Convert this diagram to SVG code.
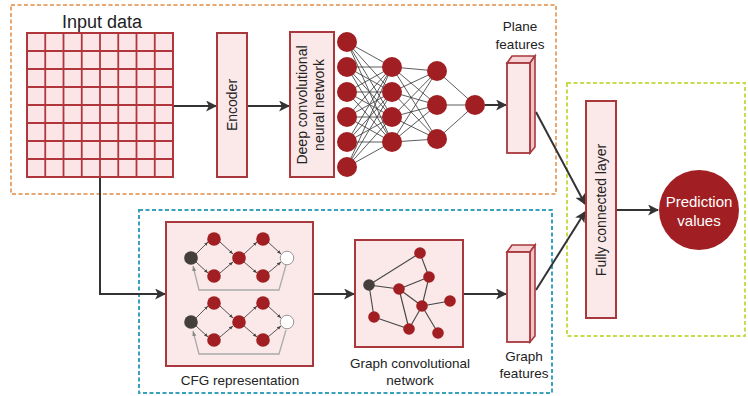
<svg xmlns="http://www.w3.org/2000/svg" width="748" height="396" viewBox="0 0 748 396">
  <style>
    .lbl { font-family: "Liberation Sans", Arial, sans-serif; fill: #222; }
    .box { fill: #fbe8e9; stroke: #a8383c; stroke-width: 2; }
    .nn { fill: #a11f22; }
    .syn { stroke: #333; stroke-width: 0.8; }
    .conn { stroke: #333; stroke-width: 2; fill: none; }
    .gedge { stroke: #444; stroke-width: 1.1; }
    .cfg { stroke: #555; stroke-width: 1; marker-end: url(#tiny); }
    .loop { stroke: #aaa; stroke-width: 1.3; fill: none; }
    .gn { fill: #a11f22; }
  </style>
  <defs>
    <marker id="arr" viewBox="0 0 10 10" refX="9" refY="5" markerWidth="5.5" markerHeight="5.5" orient="auto" markerUnits="strokeWidth">
      <path d="M0,0 L10,5 L0,10 L2.5,5 Z" fill="#333"/>
    </marker>
    <marker id="tiny" viewBox="0 0 10 10" refX="10" refY="5" markerWidth="4" markerHeight="4" orient="auto" markerUnits="strokeWidth">
      <path d="M0,1 L10,5 L0,9 Z" fill="#444"/>
    </marker>
    <marker id="tinyg" viewBox="0 0 10 10" refX="10" refY="5" markerWidth="4" markerHeight="4" orient="auto" markerUnits="strokeWidth">
      <path d="M0,1 L10,5 L0,9 Z" fill="#888"/>
    </marker>
  </defs>

  <rect width="748" height="396" fill="#ffffff"/>

  <!-- dashed stage frames -->
  <rect x="11" y="5" width="545" height="189" fill="none" stroke="#e8a873" stroke-width="2" stroke-dasharray="4 2.5"/>
  <rect x="139" y="210" width="413" height="183" fill="none" stroke="#3aa1bd" stroke-width="2" stroke-dasharray="4 2.5"/>
  <rect x="567" y="83" width="178" height="253" fill="none" stroke="#c7db4d" stroke-width="2" stroke-dasharray="4 2.5"/>

  <!-- connectors -->
  <g id="connectors">
    <line class="conn" x1="173" y1="106" x2="216" y2="106" marker-end="url(#arr)"/>
    <line class="conn" x1="247" y1="106" x2="289" y2="106" marker-end="url(#arr)"/>
    <line class="conn" x1="485" y1="105" x2="506" y2="105" marker-end="url(#arr)"/>
    <polyline class="conn" points="100,177 100,294 165,294" marker-end="url(#arr)"/>
    <line class="conn" x1="313" y1="294" x2="354" y2="294" marker-end="url(#arr)"/>
    <line class="conn" x1="463" y1="294" x2="506" y2="294" marker-end="url(#arr)"/>
    <line class="conn" x1="536" y1="112" x2="585" y2="204" marker-end="url(#arr)"/>
    <line class="conn" x1="536" y1="290" x2="585" y2="212" marker-end="url(#arr)"/>
    <line class="conn" x1="616" y1="210" x2="658" y2="210" marker-end="url(#arr)"/>
  </g>

  <!-- input grid -->
  <g id="input-data">
    <text class="lbl" x="102" y="28" font-size="18" text-anchor="middle">Input data</text>
    <rect x="27" y="33" width="146" height="144" fill="#fbe5e6" stroke="#b0363b" stroke-width="2"/>
    <g stroke="#b0363b" stroke-width="1.8">
      <line x1="45.25" y1="33" x2="45.25" y2="177"/>
      <line x1="63.5" y1="33" x2="63.5" y2="177"/>
      <line x1="81.75" y1="33" x2="81.75" y2="177"/>
      <line x1="100" y1="33" x2="100" y2="177"/>
      <line x1="118.25" y1="33" x2="118.25" y2="177"/>
      <line x1="136.5" y1="33" x2="136.5" y2="177"/>
      <line x1="154.75" y1="33" x2="154.75" y2="177"/>
      <line x1="27" y1="51" x2="173" y2="51"/>
      <line x1="27" y1="69" x2="173" y2="69"/>
      <line x1="27" y1="87" x2="173" y2="87"/>
      <line x1="27" y1="105" x2="173" y2="105"/>
      <line x1="27" y1="123" x2="173" y2="123"/>
      <line x1="27" y1="141" x2="173" y2="141"/>
      <line x1="27" y1="159" x2="173" y2="159"/>
    </g>
  </g>

  <g id="encoder">
    <rect class="box" x="217" y="33" width="30" height="144"/>
    <text class="lbl" font-size="14" text-anchor="middle" transform="translate(237,105) rotate(-90)">Encoder</text>
  </g>

  <g id="dcnn">
    <rect class="box" x="290" y="32" width="44" height="145"/>
    <text class="lbl" font-size="14" text-anchor="middle" transform="translate(307,105) rotate(-90)">Deep convolutional</text>
    <text class="lbl" font-size="14" text-anchor="middle" transform="translate(324,105) rotate(-90)">neural network</text>
  </g>

  <!-- fully connected perceptron -->
  <g id="neural-net">
    <g class="syn">
      <line x1="347" y1="42" x2="392" y2="67"/><line x1="347" y1="42" x2="392" y2="92"/><line x1="347" y1="42" x2="392" y2="117"/><line x1="347" y1="42" x2="392" y2="142"/>
      <line x1="347" y1="67" x2="392" y2="67"/><line x1="347" y1="67" x2="392" y2="92"/><line x1="347" y1="67" x2="392" y2="117"/><line x1="347" y1="67" x2="392" y2="142"/>
      <line x1="347" y1="92" x2="392" y2="67"/><line x1="347" y1="92" x2="392" y2="92"/><line x1="347" y1="92" x2="392" y2="117"/><line x1="347" y1="92" x2="392" y2="142"/>
      <line x1="347" y1="117" x2="392" y2="67"/><line x1="347" y1="117" x2="392" y2="92"/><line x1="347" y1="117" x2="392" y2="117"/><line x1="347" y1="117" x2="392" y2="142"/>
      <line x1="347" y1="142" x2="392" y2="67"/><line x1="347" y1="142" x2="392" y2="92"/><line x1="347" y1="142" x2="392" y2="117"/><line x1="347" y1="142" x2="392" y2="142"/>
      <line x1="347" y1="167" x2="392" y2="67"/><line x1="347" y1="167" x2="392" y2="92"/><line x1="347" y1="167" x2="392" y2="117"/><line x1="347" y1="167" x2="392" y2="142"/>
      <line x1="392" y1="67" x2="437" y2="71"/><line x1="392" y1="67" x2="437" y2="105"/><line x1="392" y1="67" x2="437" y2="139"/>
      <line x1="392" y1="92" x2="437" y2="71"/><line x1="392" y1="92" x2="437" y2="105"/><line x1="392" y1="92" x2="437" y2="139"/>
      <line x1="392" y1="117" x2="437" y2="71"/><line x1="392" y1="117" x2="437" y2="105"/><line x1="392" y1="117" x2="437" y2="139"/>
      <line x1="392" y1="142" x2="437" y2="71"/><line x1="392" y1="142" x2="437" y2="105"/><line x1="392" y1="142" x2="437" y2="139"/>
      <line x1="437" y1="71" x2="475" y2="105"/><line x1="437" y1="105" x2="475" y2="105"/><line x1="437" y1="139" x2="475" y2="105"/>
    </g>
    <g class="nn">
      <circle cx="347" cy="42" r="10"/><circle cx="347" cy="67" r="10"/><circle cx="347" cy="92" r="10"/>
      <circle cx="347" cy="117" r="10"/><circle cx="347" cy="142" r="10"/><circle cx="347" cy="167" r="10"/>
      <circle cx="392" cy="67" r="10"/><circle cx="392" cy="92" r="10"/><circle cx="392" cy="117" r="10"/><circle cx="392" cy="142" r="10"/>
      <circle cx="437" cy="71" r="10"/><circle cx="437" cy="105" r="10"/><circle cx="437" cy="139" r="10"/>
      <circle cx="475" cy="105" r="10"/>
    </g>
  </g>

  <g id="plane-features">
    <text class="lbl" x="520" y="31" font-size="13.5" text-anchor="middle">Plane</text>
    <text class="lbl" x="520" y="49" font-size="13.5" text-anchor="middle">features</text>
    <path d="M507,63 L512,56 L535,56 L530,63 Z" fill="#f6d3d5" stroke="#a8383c" stroke-width="1.6"/>
    <path d="M530,63 L535,56 L535,147 L530,153 Z" fill="#f2c4c7" stroke="#a8383c" stroke-width="1.6"/>
    <rect x="507" y="63" width="23" height="90" fill="#fbe8e9" stroke="#a8383c" stroke-width="1.8"/>
  </g>

  <g id="cfg">
    <rect class="box" x="166" y="222" width="147" height="144"/>
    <!-- upper flow graph -->
    <path class="loop" d="M286,265 L279,290 L199,290 L193,266" marker-end="url(#tinyg)"/>
    <line class="cfg" x1="196" y1="254" x2="208" y2="242"/>
    <line class="cfg" x1="196" y1="262" x2="208" y2="273"/>
    <line class="cfg" x1="220" y1="242" x2="233" y2="254"/>
    <line class="cfg" x1="220" y1="273" x2="233" y2="262"/>
    <line class="cfg" x1="244" y1="254" x2="257" y2="242"/>
    <line class="cfg" x1="244" y1="262" x2="257" y2="273"/>
    <line class="cfg" x1="268" y1="242" x2="281" y2="254"/>
    <line class="cfg" x1="268" y1="273" x2="281" y2="262"/>
    <circle cx="191" cy="258" r="6.8" fill="#453f3c"/>
    <circle class="gn" cx="214" cy="239" r="6.8"/>
    <circle class="gn" cx="214" cy="276" r="6.8"/>
    <circle class="gn" cx="239" cy="258" r="6.8"/>
    <circle class="gn" cx="263" cy="239" r="6.8"/>
    <circle class="gn" cx="263" cy="276" r="6.8"/>
    <circle cx="287" cy="258" r="6.8" fill="#ffffff" stroke="#999" stroke-width="1"/>
    <!-- lower flow graph -->
    <path class="loop" d="M286,330 L279,354 L199,354 L193,331" marker-end="url(#tinyg)"/>
    <line class="cfg" x1="196" y1="318" x2="208" y2="306"/>
    <line class="cfg" x1="196" y1="326" x2="208" y2="337"/>
    <line class="cfg" x1="220" y1="306" x2="233" y2="318"/>
    <line class="cfg" x1="220" y1="337" x2="233" y2="326"/>
    <line class="cfg" x1="244" y1="318" x2="257" y2="306"/>
    <line class="cfg" x1="244" y1="326" x2="257" y2="337"/>
    <line class="cfg" x1="268" y1="306" x2="281" y2="318"/>
    <line class="cfg" x1="268" y1="337" x2="281" y2="326"/>
    <circle cx="191" cy="322" r="6.8" fill="#453f3c"/>
    <circle class="gn" cx="214" cy="303" r="6.8"/>
    <circle class="gn" cx="214" cy="340" r="6.8"/>
    <circle class="gn" cx="239" cy="322" r="6.8"/>
    <circle class="gn" cx="263" cy="303" r="6.8"/>
    <circle class="gn" cx="263" cy="340" r="6.8"/>
    <circle cx="287" cy="322" r="6.8" fill="#ffffff" stroke="#999" stroke-width="1"/>
    <text class="lbl" x="240" y="385" font-size="13.5" text-anchor="middle">CFG representation</text>
  </g>

  <g id="gcn">
    <rect class="box" x="355" y="240" width="108" height="107"/>
    <g class="gedge">
      <line x1="369" y1="285" x2="420" y2="253"/>
      <line x1="369" y1="285" x2="399" y2="289"/>
      <line x1="369" y1="285" x2="374" y2="317"/>
      <line x1="420" y1="253" x2="429" y2="277"/>
      <line x1="429" y1="277" x2="399" y2="289"/>
      <line x1="429" y1="277" x2="422" y2="306"/>
      <line x1="399" y1="289" x2="422" y2="306"/>
      <line x1="399" y1="289" x2="409" y2="329"/>
      <line x1="422" y1="306" x2="450" y2="301"/>
      <line x1="422" y1="306" x2="438" y2="333"/>
      <line x1="422" y1="306" x2="409" y2="329"/>
      <line x1="374" y1="317" x2="409" y2="329"/>
    </g>
    <circle cx="369" cy="285" r="5.8" fill="#453f3c"/>
    <circle class="gn" cx="420" cy="253" r="5.8"/>
    <circle class="gn" cx="429" cy="277" r="5.8"/>
    <circle class="gn" cx="399" cy="289" r="5.8"/>
    <circle class="gn" cx="422" cy="306" r="5.8"/>
    <circle class="gn" cx="450" cy="301" r="5.8"/>
    <circle class="gn" cx="374" cy="317" r="5.8"/>
    <circle class="gn" cx="409" cy="329" r="5.8"/>
    <circle class="gn" cx="438" cy="333" r="5.8"/>
    <text class="lbl" x="410" y="368" font-size="13.5" text-anchor="middle">Graph convolutional</text>
    <text class="lbl" x="410" y="385" font-size="13.5" text-anchor="middle">network</text>
  </g>

  <g id="graph-features">
    <path d="M507,252 L512,245 L535,245 L530,252 Z" fill="#f6d3d5" stroke="#a8383c" stroke-width="1.6"/>
    <path d="M530,252 L535,245 L535,336 L530,342 Z" fill="#f2c4c7" stroke="#a8383c" stroke-width="1.6"/>
    <rect x="507" y="252" width="23" height="90" fill="#fbe8e9" stroke="#a8383c" stroke-width="1.8"/>
    <text class="lbl" x="524" y="361" font-size="13.5" text-anchor="middle">Graph</text>
    <text class="lbl" x="524" y="378" font-size="13.5" text-anchor="middle">features</text>
  </g>

  <g id="fc-layer">
    <rect class="box" x="586" y="101" width="30" height="217"/>
    <text class="lbl" font-size="14" text-anchor="middle" transform="translate(606,210) rotate(-90)">Fully connected layer</text>
  </g>

  <g id="prediction">
    <circle cx="699" cy="210" r="40" fill="#a11f22"/>
    <text x="699" y="207" font-family="Liberation Sans, Arial, sans-serif" font-size="15" fill="#ffffff" text-anchor="middle">Prediction</text>
    <text x="699" y="226" font-family="Liberation Sans, Arial, sans-serif" font-size="15" fill="#ffffff" text-anchor="middle">values</text>
  </g>
</svg>
